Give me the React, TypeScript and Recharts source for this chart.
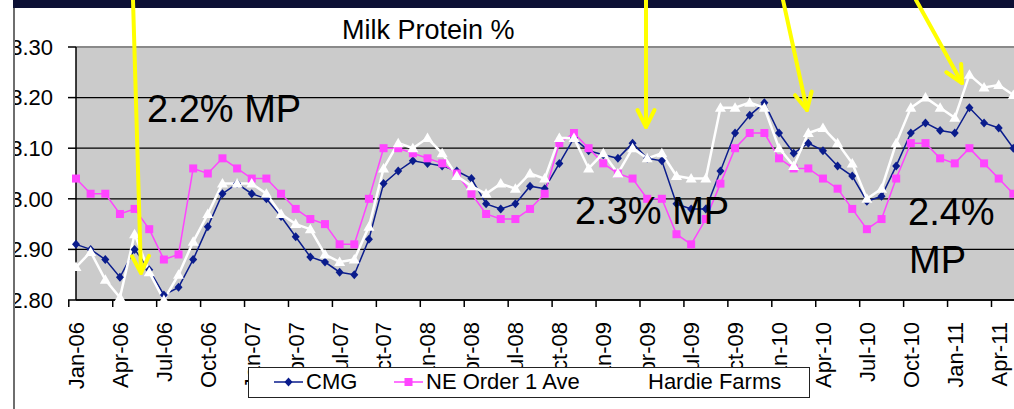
import React from 'react';
import { LineChart, Line, XAxis, YAxis, CartesianGrid, ReferenceLine } from 'recharts';

const monthNames = ['Jan', 'Feb', 'Mar', 'Apr', 'May', 'Jun', 'Jul', 'Aug', 'Sep', 'Oct', 'Nov', 'Dec'];
const years = ['06', '07', '08', '09', '10', '11'];
const categories: string[] = years.flatMap(y => monthNames.map(m => `${m}-${y}`)).slice(0, 66);

const cmg = [
  2.91, 2.90, 2.88, 2.845, 2.90, 2.86, 2.81, 2.825, 2.88, 2.945, 3.01, 3.03,
  3.01, 3.00, 2.965, 2.925, 2.885, 2.875, 2.855, 2.85, 2.92, 3.03, 3.055, 3.075,
  3.07, 3.065, 3.055, 3.04, 2.99, 2.98, 2.99, 3.025, 3.02, 3.07, 3.12, 3.095,
  3.087, 3.08, 3.11, 3.08, 3.075, 2.99, 2.98, 2.98, 3.055, 3.13, 3.165, 3.19,
  3.13, 3.09, 3.11, 3.095, 3.065, 3.045, 2.995, 3.005, 3.065, 3.13, 3.15, 3.135,
  3.13, 3.18, 3.15, 3.14, 3.10, 3.08,
];
const neOrder1 = [
  3.04, 3.01, 3.01, 2.97, 2.98, 2.94, 2.88, 2.89, 3.06, 3.05, 3.08, 3.06,
  3.04, 3.04, 3.01, 2.98, 2.96, 2.95, 2.91, 2.91, 3.00, 3.10, 3.10, 3.09,
  3.08, 3.07, 3.05, 3.01, 2.97, 2.96, 2.96, 2.98, 3.01, 3.11, 3.13, 3.10,
  3.07, 3.05, 3.04, 3.00, 3.00, 2.93, 2.91, 2.96, 3.03, 3.10, 3.13, 3.13,
  3.08, 3.06, 3.06, 3.04, 3.02, 2.98, 2.94, 2.96, 3.04, 3.11, 3.11, 3.08,
  3.07, 3.10, 3.07, 3.04, 3.01, 3.00,
];
const hardie = [
  2.865, 2.895, 2.84, 2.805, 2.93, 2.855, 2.80, 2.85, 2.915, 2.97, 3.03, 3.03,
  3.03, 3.01, 2.97, 2.95, 2.94, 2.89, 2.875, 2.88, 2.945, 3.06, 3.11, 3.10,
  3.12, 3.09, 3.045, 3.025, 3.01, 3.03, 3.02, 3.05, 3.04, 3.12, 3.12, 3.06,
  3.09, 3.05, 3.10, 3.08, 3.09, 3.045, 3.04, 3.04, 3.18, 3.18, 3.19, 3.18,
  3.10, 3.065, 3.13, 3.14, 3.11, 3.07, 3.00, 3.02, 3.11, 3.18, 3.20, 3.18,
  3.16, 3.245, 3.22, 3.225, 3.205, 3.20,
];
const yTicks = [2.8, 2.9, 3.0, 3.1, 3.2, 3.3];
const seriesNames = ['CMG', 'NE Order 1 Ave', 'Hardie Farms'];
const title = 'Milk Protein %';

const data = categories.map((month, i) => ({
  month,
  cmg: cmg[i],
  ne: neOrder1[i],
  hardie: hardie[i],
}));

const W = 1028;
const H = 409;
const PLOT_LEFT = 76;
const PLOT_TOP = 47;
const PLOT_BOTTOM = 300;
const STEP = (W - PLOT_LEFT) / categories.length;
const FONT = '"Liberation Sans", Arial, sans-serif';
const NAVY = '#0a1c8c';
const PINK = '#ff44ff';
const YELLOW = '#ffff00';

const Diamond = (p: any) =>
  p.cx == null ? <g key={p.index} /> : (
    <path key={p.index} d={`M${p.cx},${p.cy - 4.5}L${p.cx + 4},${p.cy}L${p.cx},${p.cy + 4.5}L${p.cx - 4},${p.cy}Z`} fill={NAVY} />
  );
const Square = (p: any) =>
  p.cx == null ? <g key={p.index} /> : (
    <rect key={p.index} x={p.cx - 4} y={p.cy - 4} width={8} height={8} fill={PINK} />
  );
const Triangle = (p: any) =>
  p.cx == null ? <g key={p.index} /> : (
    <path key={p.index} d={`M${p.cx},${p.cy - 5.5}L${p.cx + 5.5},${p.cy + 4}L${p.cx - 5.5},${p.cy + 4}Z`} fill="#fff" />
  );

const XTick = (p: any) => {
  const { x, y, payload } = p;
  return (
    <g>
      <line x1={x - STEP / 2} x2={x - STEP / 2} y1={y} y2={y + 7} stroke="#000" strokeWidth={1.5} />
      <text transform={`translate(${x},${y + 22}) rotate(-90)`} dy="0.36em" textAnchor="end"
        fontSize={22} fill="#000" fontFamily={FONT}>{payload.value}</text>
    </g>
  );
};

// yellow call-out arrows: [startX, startY, tipX, tipY]
const arrows = [
  [133, 0, 141, 273],
  [646, 0, 646, 127],
  [783, 0, 807, 110],
  [916, 0, 962, 83],
];

function Arrow({ a }: { a: number[] }) {
  const [x0, y0, x1, y1] = a;
  const len = Math.hypot(x1 - x0, y1 - y0);
  const dx = (x1 - x0) / len, dy = (y1 - y0) / len;
  const bx = x1 - dx * 17, by = y1 - dy * 17;
  const px = dy * 8.5, py = -dx * 8.5;
  return (
    <g stroke={YELLOW} strokeWidth={4} fill="none" strokeLinecap="round" strokeLinejoin="round">
      <line x1={x0} y1={y0} x2={x1} y2={y1} />
      <polyline points={`${bx + px},${by + py} ${x1},${y1} ${bx - px},${by - py}`} />
    </g>
  );
}

const legendSwatches = [
  { left: 25, color: NAVY, marker: 'diamond' },
  { left: 145, color: PINK, marker: 'square' },
  { left: 367, color: '#fff', marker: 'triangle' },
];

export default function App() {
  return (
    <div style={{ position: 'absolute', left: 0, top: 0, width: 1014, height: 409, overflow: 'hidden', background: '#fff' }}>
      <LineChart width={W} height={H} data={data} margin={{ top: PLOT_TOP, right: 0, bottom: 0, left: 0 }}>
        <CartesianGrid vertical={false} stroke="#000" strokeWidth={1.3} fill="#cbcbcb" fillOpacity={1} />
        <ReferenceLine y={3.3} stroke="#8a8a8a" strokeWidth={2} />
        <XAxis dataKey="month" interval={2} height={H - PLOT_BOTTOM} tickLine={false} tickSize={0} tickMargin={0}
          axisLine={{ stroke: '#000', strokeWidth: 1.5 }} tick={<XTick />} />
        <YAxis width={PLOT_LEFT} domain={[2.8, 3.3]} ticks={yTicks} tickFormatter={(v: number) => v.toFixed(2)}
          tickSize={8} tickMargin={15} axisLine={{ stroke: '#000', strokeWidth: 1.5 }}
          tickLine={{ stroke: '#000', strokeWidth: 1.5 }}
          tick={{ fontSize: 22, fill: '#000', fontFamily: FONT }} />
        <Line type="linear" dataKey="cmg" name={seriesNames[0]} stroke={NAVY} strokeWidth={1.5}
          dot={Diamond} activeDot={false} isAnimationActive={false} />
        <Line type="linear" dataKey="ne" name={seriesNames[1]} stroke={PINK} strokeWidth={1.5}
          dot={Square} activeDot={false} isAnimationActive={false} />
        <Line type="linear" dataKey="hardie" name={seriesNames[2]} stroke="#fff" strokeWidth={2.5}
          dot={Triangle} activeDot={false} isAnimationActive={false} />
      </LineChart>

      <div style={{ position: 'absolute', left: 248, top: 367, width: 562, height: 31, boxSizing: 'border-box',
        border: '1.5px solid #222', background: '#fff', fontFamily: FONT, fontSize: 22, color: '#000' }}>
        {seriesNames.map((name, i) => {
          const s = legendSwatches[i];
          return (
            <div key={name} style={{ position: 'absolute', left: s.left, top: 0, height: 28, display: 'flex', alignItems: 'center', whiteSpace: 'nowrap' }}>
              <svg width={29} height={12} style={{ marginRight: 3 }}>
                <line x1={0} x2={29} y1={6} y2={6} stroke={s.color} strokeWidth={1.5} />
                {s.marker === 'diamond' && <path d="M14.5,1.5L18.5,6L14.5,10.5L10.5,6Z" fill={s.color} />}
                {s.marker === 'square' && <rect x={10.5} y={2} width={8} height={8} fill={s.color} />}
                {s.marker === 'triangle' && <path d="M14.5,1L19.5,10L9.5,10Z" fill={s.color} />}
              </svg>
              <span>{name}</span>
            </div>
          );
        })}
      </div>

      <svg width={1014} height={409} style={{ position: 'absolute', left: 0, top: 0, pointerEvents: 'none' }}>
        <rect x={0} y={0} width={13} height={409} fill="#fff" />
        <line x1={14} x2={14} y1={0} y2={409} stroke="#6e6e6e" strokeWidth={2} />
        <rect x={13} y={0} width={1001} height={8} fill="#0c1035" />
        <text x={342} y={39} fontSize={27} fontFamily={FONT} fill="#000">{title}</text>
        <text x={147} y={122} fontSize={38} fontFamily={FONT} fill="#000">2.2% MP</text>
        <text x={575} y={224} fontSize={38} fontFamily={FONT} fill="#000">2.3% MP</text>
        <text x={908} y={225} fontSize={38} fontFamily={FONT} fill="#000">2.4%</text>
        <text x={909} y={273} fontSize={38} fontFamily={FONT} fill="#000">MP</text>
        {arrows.map((a, i) => <Arrow key={i} a={a} />)}
      </svg>
    </div>
  );
}
